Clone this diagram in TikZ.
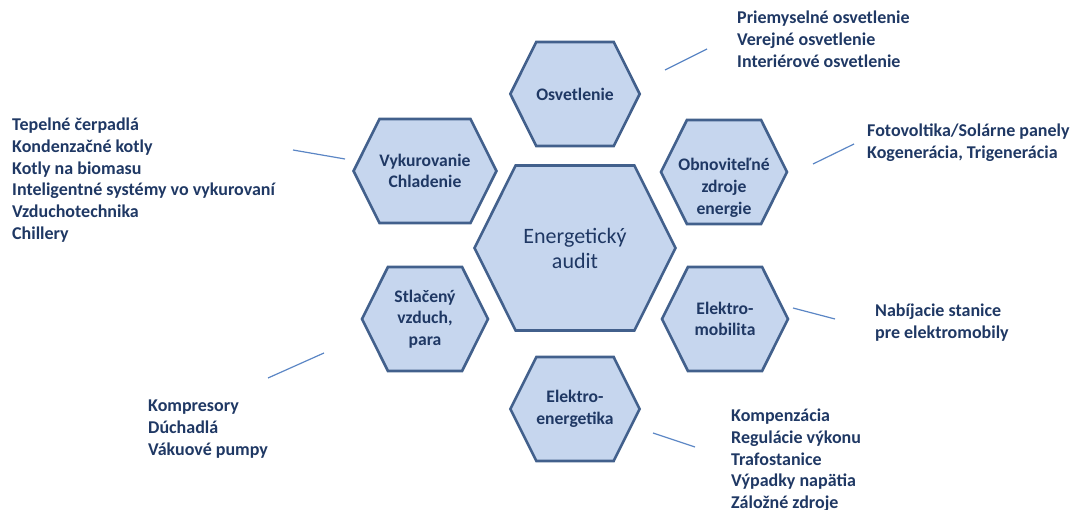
\documentclass[tikz,border=0pt]{standalone}
\usepackage{fontspec}
\setmainfont{Carlito}
\usetikzlibrary{shapes.symbols}
\definecolor{hexfill}{RGB}{198,214,238}
\definecolor{hexdraw}{RGB}{66,96,140}
\definecolor{navy}{RGB}{31,56,100}
\definecolor{leader}{RGB}{91,134,197}
\tikzset{
  hexa/.style={shape=signal, signal to=west and east, signal pointer angle=127,
    draw=hexdraw, fill=hexfill, line width=2.6pt, minimum width=126pt, minimum height=104pt,
    inner sep=0pt, align=center, text=navy, font=\fontsize{17.6}{21.7}\selectfont\bfseries},
  bighexa/.style={hexa, minimum width=201pt, minimum height=165pt, font=\fontsize{22}{25}\selectfont},
  hextext/.style={align=center, text=navy, font=\fontsize{17.6}{21.7}\selectfont\bfseries},
  liste/.style={anchor=north west, align=left, inner sep=0pt, text=navy, font=\fontsize{18}{21.7}\selectfont\bfseries},
  leaderline/.style={leader, line width=1.2pt}
}
\begin{document}
\begin{tikzpicture}[x=1pt,y=-1pt]
\useasboundingbox (0,0) rectangle (1072,510);
% hexagons
\node[bighexa] (audit) at (575,248) {Energetický\\audit};
\node[hexa] (osv) at (575,94) {Osvetlenie};
\node[hexa] (vyk) at (425,171) {Vykurovanie\\Chladenie};
\node[hexa, label={[hextext, yshift=-16pt]center:Obnoviteľné\\zdroje\\energie}] (oze) at (724,172) {};
\node[hexa] (vzd) at (425,319) {Stlačený\\vzduch,\\para};
\node[hexa] (emob) at (725,319) {Elektro-\\mobilita};
\node[hexa] (een) at (575,409) {Elektro-\\energetika};
% lists
\node[liste] (osvlist) at (737,11) {Priemyselné osvetlenie\\Verejné osvetlenie\\Interiérové osvetlenie};
\node[liste] (ozelist) at (867,124) {Fotovoltika/Solárne panely\\Kogenerácia, Trigenerácia};
\node[liste] (vyklist) at (12,118) {Tepelné čerpadlá\\Kondenzačné kotly\\Kotly na biomasu\\Inteligentné systémy vo vykurovaní\\Vzduchotechnika\\Chillery};
\node[liste] (emoblist) at (875,304) {Nabíjacie stanice\\pre elektromobily};
\node[liste] (eenlist) at (731,409) {Kompenzácia\\Regulácie výkonu\\Trafostanice\\Výpadky napätia\\Záložné zdroje};
\node[liste] (vzdlist) at (148,400) {Kompresory\\Dúchadlá\\Vákuové pumpy};
% leader lines
\coordinate (o1) at (665,70); \coordinate (o2) at (707,49);
\coordinate (v1) at (293,150); \coordinate (v2) at (345,159);
\coordinate (z1) at (813,164); \coordinate (z2) at (854,144);
\coordinate (m1) at (793,308); \coordinate (m2) at (835,319);
\coordinate (e1) at (653,433); \coordinate (e2) at (695,447);
\coordinate (s1) at (268,378); \coordinate (s2) at (324,353);
\draw[leaderline] (o1) -- (o2);
\draw[leaderline] (v1) -- (v2);
\draw[leaderline] (z1) -- (z2);
\draw[leaderline] (m1) -- (m2);
\draw[leaderline] (e1) -- (e2);
\draw[leaderline] (s1) -- (s2);
\end{tikzpicture}
\end{document}
